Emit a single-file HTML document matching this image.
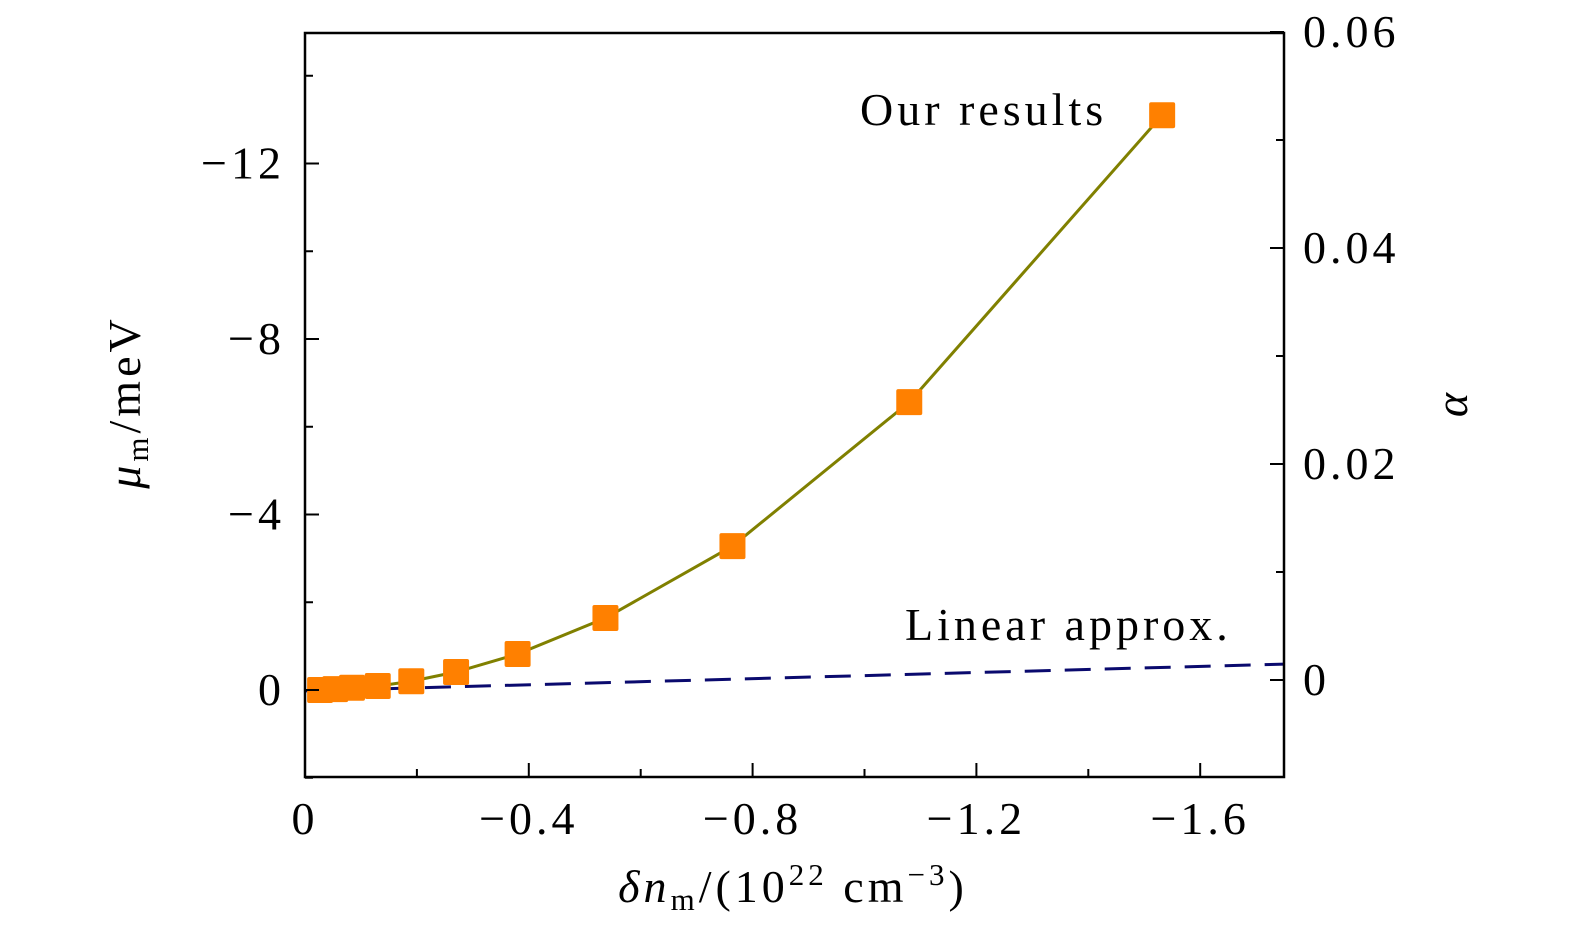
<!DOCTYPE html>
<html><head><meta charset="utf-8"><style>
html,body{margin:0;padding:0;background:#fff;}
svg text{font-family:"Liberation Serif",serif;fill:#000;}
</style></head><body>
<svg id="chart" width="1575" height="935" xmlns="http://www.w3.org/2000/svg">
<g id="plot"></g>
</svg>
<script>
const xTicks=[0,-0.4,-0.8,-1.2,-1.6];
const xTickLabels=["0","\u22120.4","\u22120.8","\u22121.2","\u22121.6"];
const yTicks=[0,-4,-8,-12];
const yTickLabels=["0","\u22124","\u22128","\u221212"];
const y2Ticks=[0,0.02,0.04,0.06];
const y2TickLabels=["0","0.02","0.04","0.06"];
const resultX=[-0.027,-0.054,-0.084,-0.13,-0.19,-0.27,-0.38,-0.537,-0.764,-1.08,-1.532];
const resultY=[0,-0.02,-0.05,-0.09,-0.2,-0.41,-0.82,-1.64,-3.28,-6.56,-13.1];
const linearX=[0,-1.75];
const linearY=[0.02,-0.59];

const L=305,R=1284,T=33,B=777;
const sx=v=>L+(-v)*559.5;
const sy=v=>690+v*43.875;
const sy2=v=>680-v*10800;
const NS="http://www.w3.org/2000/svg";
const g=document.getElementById('plot');
function mk(tag,attrs,parent){const e=document.createElementNS(NS,tag);for(const k in attrs)e.setAttribute(k,attrs[k]);(parent||g).appendChild(e);return e;}

const ld=mk('polyline',{points:linearX.map((x,i)=>sx(x)+','+sy(linearY[i])).join(' '),fill:'none',stroke:'#0a0a6e','stroke-width':3,'stroke-dasharray':'26,14'});


const rl=mk('polyline',{points:resultX.map((x,i)=>sx(x)+','+sy(resultY[i])).join(' '),fill:'none',stroke:'#808000','stroke-width':3});


resultX.forEach((x,i)=>{
  const r=mk('rect',{x:sx(x)-13,y:sy(resultY[i])-13,width:26,height:26,rx:2,fill:'#ff8000'});
  
  
});
const fr=mk('rect',{x:L,y:T,width:R-L,height:B-T,fill:'none',stroke:'#000','stroke-width':2.5});


for(let v=0;v>=-1.7;v-=0.2){
  const major=Math.abs(Math.round(v*10))%4===0;
  const len=major?14:8;
  mk('line',{x1:sx(v),x2:sx(v),y1:B,y2:B-len,stroke:'#000','stroke-width':2});
}
xTicks.forEach((v,i)=>{
  const t=mk('text',{x:sx(v),y:834,'font-size':46,'letter-spacing':4,'text-anchor':'middle'});
  t.textContent=xTickLabels[i];
  
  
});
for(let v=2;v>=-14;v-=2){
  const major=v%4===0;
  const len=major?14:8;
  mk('line',{x1:L,x2:L+len,y1:sy(v),y2:sy(v),stroke:'#000','stroke-width':2});
}
yTicks.forEach((v,i)=>{
  const t=mk('text',{x:285,y:sy(v)+15,'font-size':46,'letter-spacing':4,'text-anchor':'end'});
  t.textContent=yTickLabels[i];
  
  
});
for(let k=0;k<=6;k++){
  const v=k*0.01;
  const len=k%2===0?14:8;
  mk('line',{x1:R,x2:R-len,y1:sy2(v),y2:sy2(v),stroke:'#000','stroke-width':2});
}
y2Ticks.forEach((v,i)=>{
  const t=mk('text',{x:1303,y:sy2(v)+15,'font-size':46,'letter-spacing':4});
  t.textContent=y2TickLabels[i];
  
  
});
</script>
<svg width="1575" height="935" style="position:absolute;left:0;top:0">
<text x="860" y="125" font-size="46" letter-spacing="4">Our results</text>
<text x="905" y="640" font-size="46" letter-spacing="4">Linear approx.</text>
<text x="793" y="902" font-size="46" letter-spacing="4" text-anchor="middle"><tspan font-style="italic">δn</tspan><tspan font-size="31" dy="8">m</tspan><tspan dy="-8">/(10</tspan><tspan font-size="31" dy="-17">22</tspan><tspan dy="17"> cm</tspan><tspan font-size="31" dy="-17">−3</tspan><tspan dy="17">)</tspan></text>
<text transform="translate(140,402) rotate(-90)" font-size="46" letter-spacing="4" text-anchor="middle"><tspan font-style="italic">μ</tspan><tspan font-size="31" dy="8">m</tspan><tspan dy="-8">/meV</tspan></text>
<text transform="translate(1467,405) rotate(-90)" font-size="46" text-anchor="middle" font-style="italic">α</text>
</svg>
</body></html>
